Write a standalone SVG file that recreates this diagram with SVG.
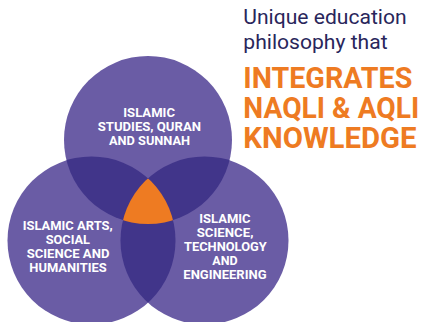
<svg xmlns="http://www.w3.org/2000/svg" width="421" height="322" viewBox="0 0 421 322">
<style>
.c{fill:#6a5ca5}
.d{fill:#41358a}
.o{fill:#ee7b22}
.lb{font-family:Roboto,"Liberation Sans",sans-serif;font-weight:bold;font-size:13.5px;fill:#ffffff;text-anchor:start}
.h1{font-family:Roboto,"Liberation Sans",sans-serif;font-size:20px;fill:#29265b}
.h2{font-family:Roboto,"Liberation Sans",sans-serif;font-weight:bold;font-size:30px;fill:#ee7b22}
</style>
<defs>
<circle id="T" cx="148" cy="140" r="84"/>
<circle id="L" cx="91.5" cy="240.5" r="84"/>
<circle id="R" cx="204.5" cy="240.5" r="84"/>
<clipPath id="clipT"><use href="#T"/></clipPath>
<clipPath id="clipL"><use href="#L"/></clipPath>
<clipPath id="clipR"><use href="#R"/></clipPath>
</defs>
<g id="circle-top"><use href="#T" class="c"/></g>
<g id="circle-left"><use href="#L" class="c"/></g>
<g id="circle-right"><use href="#R" class="c"/></g>
<g id="overlaps">
<use href="#L" class="d" clip-path="url(#clipT)"/>
<use href="#R" class="d" clip-path="url(#clipT)"/>
<use href="#L" class="d" clip-path="url(#clipR)"/>
<g clip-path="url(#clipR)"><use href="#T" class="o" clip-path="url(#clipL)"/></g>
</g>
<g id="label-top">
<text class="lb" x="123.3" y="117" textLength="51.7" lengthAdjust="spacingAndGlyphs">ISLAMIC</text>
<text class="lb" x="97.7" y="131" textLength="103.3" lengthAdjust="spacingAndGlyphs">STUDIES, QURAN</text>
<text class="lb" x="109" y="145.3" textLength="81" lengthAdjust="spacingAndGlyphs">AND SUNNAH</text>
</g>
<g id="label-left">
<text class="lb" x="22.7" y="229.5" textLength="90" lengthAdjust="spacingAndGlyphs">ISLAMIC ARTS,</text>
<text class="lb" x="45.7" y="243.5" textLength="44.3" lengthAdjust="spacingAndGlyphs">SOCIAL</text>
<text class="lb" x="26.7" y="257.5" textLength="82.7" lengthAdjust="spacingAndGlyphs">SCIENCE AND</text>
<text class="lb" x="29.3" y="271.7" textLength="77.3" lengthAdjust="spacingAndGlyphs">HUMANITIES</text>
</g>
<g id="label-right">
<text class="lb" x="199.3" y="222.7" textLength="51.3" lengthAdjust="spacingAndGlyphs">ISLAMIC</text>
<text class="lb" x="196.7" y="236.7" textLength="56.7" lengthAdjust="spacingAndGlyphs">SCIENCE,</text>
<text class="lb" x="184" y="251" textLength="82.7" lengthAdjust="spacingAndGlyphs">TECHNOLOGY</text>
<text class="lb" x="212.3" y="265" textLength="25.3" lengthAdjust="spacingAndGlyphs">AND</text>
<text class="lb" x="183.3" y="279.3" textLength="83.3" lengthAdjust="spacingAndGlyphs">ENGINEERING</text>
</g>
<g id="heading">
<text class="h1" x="243.3" y="24" textLength="163.3" lengthAdjust="spacingAndGlyphs">Unique education</text>
<text class="h1" x="243.3" y="49.3" textLength="144.3" lengthAdjust="spacingAndGlyphs">philosophy that</text>
<text class="h2" x="243.3" y="88.3" textLength="169" lengthAdjust="spacingAndGlyphs">INTEGRATES</text>
<text class="h2" x="243.3" y="118.3" textLength="176" lengthAdjust="spacingAndGlyphs">NAQLI &amp; AQLI</text>
<text class="h2" x="243.3" y="148.3" textLength="173.3" lengthAdjust="spacingAndGlyphs">KNOWLEDGE</text>
</g>
</svg>
